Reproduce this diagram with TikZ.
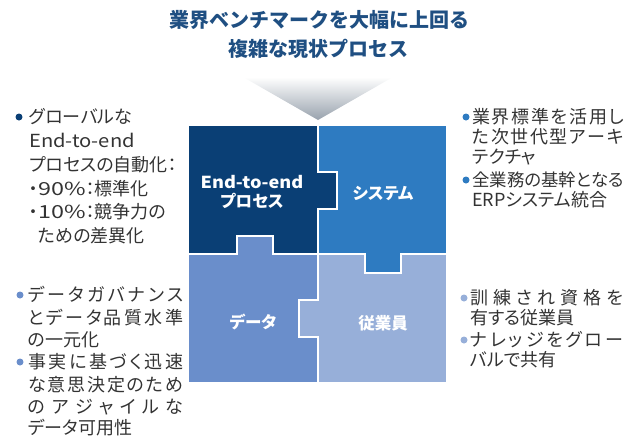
\documentclass[tikz,border=0pt]{standalone}
\usepackage{fontspec}
\usepackage{graphicx}
\setmainfont{Noto Sans CJK JP}
\newfontfamily\pfont{Noto Sans CJK JP}[RawFeature=+palt]
\definecolor{cTL}{HTML}{0A3F75}
\definecolor{cTR}{HTML}{2E7BC1}
\definecolor{cBL}{HTML}{6A8ECB}
\definecolor{cBR}{HTML}{97AFD9}
\definecolor{ttl}{HTML}{1F4F82}
\definecolor{txtc}{HTML}{333333}
\definecolor{tri}{HTML}{98A2AD}
\newcommand\fsz[1]{\fontsize{#1}{#1}\selectfont}
\newcommand\jst[2]{\makebox[#1][s]{#2}}
\newcommand\wide[2]{\scalebox{#1}[1]{#2}}
\tikzset{
  piece/.style={draw=white, line width=1.8pt, line join=miter},
  lbl/.style={text=white, font=\pfont\fsz{16.5}\bfseries, align=center, inner sep=0pt},
  ttlsty/.style={text=ttl, font=\fsz{20}\bfseries, inner sep=0pt},
  txt/.style={text=txtc, font=\pfont\fsz{18}, inner sep=0pt, anchor=base west},
  txtb/.style={text=txtc, font=\pfont\fsz{18}, inner sep=0pt, anchor=base west},
  dot/.style={circle, inner sep=0pt, minimum size=7pt}
}
\begin{document}
\begin{tikzpicture}[x=1pt,y=-1pt]
\useasboundingbox (0,0) rectangle (627,437);
% title
\node[ttlsty] (t1) at (319,20) {業界ベンチマークを大幅に上回る};
\node[ttlsty] (t2) at (318,49) {複雑な現状プロセス};
% funnel triangle
\shade[top color=white, bottom color=tri] (243,77) -- (393,77) -- (318,120) -- cycle;
% puzzle pieces
\filldraw[piece, fill=cTL] (188,125) -- (318,125) -- (318,172) -- (337,172) -- (337,209) -- (318,209) -- (318,254) -- (273,254) -- (273,236) -- (237,236) -- (237,254) -- (188,254) -- cycle;
\filldraw[piece, fill=cTR] (318,125) -- (447,125) -- (447,254) -- (401,254) -- (401,273) -- (365,273) -- (365,254) -- (318,254) -- (318,209) -- (337,209) -- (337,172) -- (318,172) -- cycle;
\filldraw[piece, fill=cBL] (188,254) -- (237,254) -- (237,236) -- (273,236) -- (273,254) -- (318,254) -- (318,300) -- (299,300) -- (299,337) -- (318,337) -- (318,383) -- (188,383) -- cycle;
\filldraw[piece, fill=cBR] (318,254) -- (365,254) -- (365,273) -- (401,273) -- (401,254) -- (447,254) -- (447,383) -- (318,383) -- (318,337) -- (299,337) -- (299,300) -- (318,300) -- cycle;
% piece labels
\node[lbl] (p1) at (252,192) {\wide{1.1}{End-to-end}\\[2pt]プロセス};
\node[lbl] (p2) at (383,193) {システム};
\node[lbl] (p3) at (253,322) {データ};
\node[lbl] (p4) at (383,323) {従業員};
% top-left text
\node[dot, fill=cTL] (b1) at (19,117) {};
\node[txt] (l1) at (29,123.5) {グローバルな};
\node[txt] (l2) at (29,147.5) {\wide{1.12}{End-to-end}};
\node[txt] (l3) at (29,171.5) {プロセスの自動化：};
\node[txt] (l4) at (29,195.5) {・\wide{1.3}{90\%}：標準化};
\node[txt] (l5) at (29,218.5) {・\wide{1.3}{10\%}：競争力の};
\node[txt] (l6) at (38,242.5) {ための差異化};
% bottom-left text
\node[dot, fill=cBL] (b2) at (20,295) {};
\node[txtb] (m1) at (28,301.5) {\jst{155pt}{デ\hfill ー\hfill タ\hfill ガ\hfill バ\hfill ナ\hfill ン\hfill ス}};
\node[txtb] (m2) at (28,324.5) {\jst{155pt}{と\hfill デ\hfill ー\hfill タ\hfill 品\hfill 質\hfill 水\hfill 準}};
\node[txtb] (m3) at (28,346.5) {の一元化};
\node[dot, fill=cBL] (b3) at (20,362) {};
\node[txtb] (m4) at (28,368.5) {\jst{155pt}{事\hfill 実\hfill に\hfill 基\hfill づ\hfill く\hfill 迅\hfill 速}};
\node[txtb] (m5) at (28,391.5) {\jst{155pt}{な\hfill 意\hfill 思\hfill 決\hfill 定\hfill の\hfill た\hfill め}};
\node[txtb] (m6) at (28,413.5) {\jst{155pt}{の\hfill ア\hfill ジ\hfill ャ\hfill イ\hfill ル\hfill な}};
\node[txtb] (m7) at (28,434.5) {データ可用性};
% top-right text
\node[dot, fill=cTR] (b4) at (466,117) {};
\node[txtb] (r1) at (472,123.5) {\jst{152pt}{業\hfill 界\hfill 標\hfill 準\hfill を\hfill 活\hfill 用\hfill し}};
\node[txtb] (r2) at (472,143.5) {\jst{152pt}{た\hfill 次\hfill 世\hfill 代\hfill 型\hfill ア\hfill ー\hfill キ}};
\node[txtb] (r3) at (472,163.5) {テクチャ};
\node[dot, fill=cTR] (b5) at (466,180) {};
\node[txtb, font=\pfont\fsz{17.4}] (r4) at (472,186.5) {\jst{151pt}{全\hfill 業\hfill 務\hfill の\hfill 基\hfill 幹\hfill と\hfill な\hfill る}};
\node[txtb] (r5) at (472,206.5) {ERPシステム統合};
% bottom-right text
\node[dot, fill=cBR] (b6) at (464,298) {};
\node[txtb] (s1) at (470,304.5) {\jst{153pt}{訓\hfill 練\hfill さ\hfill れ\hfill 資\hfill 格\hfill を}};
\node[txtb] (s2) at (470,324.5) {有する従業員};
\node[dot, fill=cBR] (b7) at (464,340) {};
\node[txtb] (s3) at (470,346.5) {\jst{153pt}{ナ\hfill レ\hfill ッ\hfill ジ\hfill を\hfill グ\hfill ロ\hfill ー}};
\node[txtb] (s4) at (470,366.5) {バルで共有};
\end{tikzpicture}
\end{document}
